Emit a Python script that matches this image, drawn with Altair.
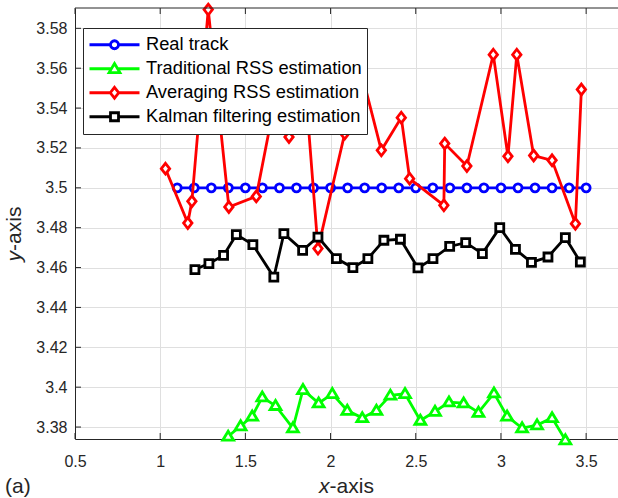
import altair as alt
import pandas as pd

# ---- series ---------------------------------------------------------------
series_names = [
    "Real track",
    "Traditional RSS estimation",
    "Averaging RSS estimation",
    "Kalman filtering estimation",
]
series_colors = ["#0000ff", "#00ff00", "#ff0000", "#000000"]

real_x = [1.1, 1.2, 1.3, 1.4, 1.5, 1.6, 1.7, 1.8, 1.9, 2.0, 2.1, 2.2, 2.3,
          2.4, 2.5, 2.6, 2.7, 2.8, 2.9, 3.0, 3.1, 3.2, 3.3, 3.4, 3.5]
real_y = [3.5, 3.5, 3.5, 3.5, 3.5, 3.5, 3.5, 3.5, 3.5, 3.5, 3.5, 3.5, 3.5,
          3.5, 3.5, 3.5, 3.5, 3.5, 3.5, 3.5, 3.5, 3.5, 3.5, 3.5, 3.5]

trad_x = [1.399, 1.472, 1.540, 1.599, 1.677, 1.779, 1.838, 1.930, 2.010,
          2.098, 2.186, 2.269, 2.351, 2.437, 2.527, 2.613, 2.695, 2.781,
          2.868, 2.959, 3.036, 3.124, 3.212, 3.300, 3.378]
trad_y = [3.3753, 3.3805, 3.3854, 3.3950, 3.3907, 3.3795, 3.3987, 3.3920,
          3.3967, 3.3883, 3.3846, 3.3883, 3.3959, 3.3967, 3.3833, 3.3878,
          3.3925, 3.3920, 3.3873, 3.3970, 3.3854, 3.3795, 3.3810, 3.3846,
          3.3735]

avg_x = [1.031, 1.162, 1.186, 1.282, 1.403, 1.564, 1.690, 1.756, 1.840,
         1.926, 2.083, 2.150, 2.298, 2.415, 2.464, 2.665, 2.670, 2.800,
         2.955, 3.041, 3.093, 3.192, 3.300, 3.437, 3.472]
avg_y = [3.5096, 3.4823, 3.4932, 3.5894, 3.4904, 3.4957, 3.5510, 3.5255,
         3.5640, 3.4695, 3.5272, 3.5683, 3.5188, 3.5352, 3.5046, 3.4912,
         3.5222, 3.5109, 3.5668, 3.5158, 3.5668, 3.5162, 3.5138, 3.4820,
         3.5493]

kal_x = [1.204, 1.286, 1.372, 1.447, 1.544, 1.667, 1.726, 1.836, 1.926,
         2.034, 2.131, 2.219, 2.313, 2.410, 2.513, 2.601, 2.699, 2.793,
         2.891, 2.993, 3.085, 3.179, 3.276, 3.378, 3.466]
kal_y = [3.4590, 3.4620, 3.4661, 3.4765, 3.4715, 3.4552, 3.4770, 3.4686,
         3.4753, 3.4645, 3.4600, 3.4645, 3.4737, 3.4742, 3.4598, 3.4645,
         3.4706, 3.4725, 3.4670, 3.4800, 3.4691, 3.4626, 3.4653, 3.4750,
         3.4628]

x_ticks = [0.5, 1, 1.5, 2, 2.5, 3, 3.5]
y_ticks = [3.38, 3.40, 3.42, 3.44, 3.46, 3.48, 3.50, 3.52, 3.54, 3.56, 3.58]

# ---- styling --------------------------------------------------------------
W, H = 543, 431
FONT = "Liberation Sans"
AX = "#262626"
GRID = "#dfdfdf"
LW = 2.8
TICK = 6


def circle_path(r, s=1.0):
    r = r / s
    return f"M{r:.4f},0A{r:.4f},{r:.4f},0,1,1,{-r:.4f},0A{r:.4f},{r:.4f},0,1,1,{r:.4f},0Z"


def poly_path(pts, s=1.0):
    return "M" + "L".join(f"{x / s:.4f},{y / s:.4f}" for x, y in pts) + "Z"


TRI = [(0, -5.2), (5.4, 3.8), (-5.4, 3.8)]
DIA = [(0, -5.4), (4.2, 0), (0, 5.4), (-4.2, 0)]
SQR = [(-4, -4), (4, -4), (4, 4), (-4, 4)]


def marker(kind, s=1.0):
    if kind == "o":
        return circle_path(4, s)
    return poly_path({"^": TRI, "d": DIA, "s": SQR}[kind], s)


# half widths of each marker along its centre line (px), where the key line stops
HALF = {"o": 4.0, "^": 3.12, "d": 4.2, "s": 4.0}
kinds = ["o", "^", "d", "s"]

# legend keys: 50 px line broken by the marker (unit = 25 px for size 2500)
KEY_SCALE = 25.0
legend_paths = []
for k in kinds:
    g = HALF[k] / KEY_SCALE
    legend_paths.append(f"M-1,0H{-g:.4f}M{g:.4f},0H1" + marker(k, KEY_SCALE))

xscale = alt.Scale(domain=[0.5, 3.687], nice=False, zero=False)
yscale = alt.Scale(domain=[3.374, 3.5902], nice=False, zero=False)

xaxis = alt.Axis(values=x_ticks, format="~g", title=None, grid=True,
                 gridColor=GRID, gridWidth=1, tickSize=0, domainColor=AX,
                 domainWidth=1, labelFont=FONT, labelFontSize=16,
                 labelColor=AX, labelPadding=14, labelFlush=False,
                 labelOverlap=False)
yaxis = alt.Axis(values=y_ticks, format="~g", title=None, grid=True,
                 gridColor=GRID, gridWidth=1, tickSize=0, domainColor=AX,
                 domainWidth=1, labelFont=FONT, labelFontSize=16,
                 labelColor=AX, labelPadding=8, labelFlush=False,
                 labelOverlap=False)

all_x = [real_x, trad_x, avg_x, kal_x]
all_y = [real_y, trad_y, avg_y, kal_y]

layers = []
for name, color, k, xs, ys in zip(series_names, series_colors, kinds, all_x, all_y):
    df = pd.DataFrame({"x": xs, "y": ys})
    base = alt.Chart(df).encode(
        x=alt.X("x:Q", scale=xscale, axis=xaxis),
        y=alt.Y("y:Q", scale=yscale, axis=yaxis),
    )
    layers.append(base.mark_line(color=color, strokeWidth=LW, strokeJoin="miter"))
    layers.append(base.mark_point(shape=marker(k), size=4, filled=False,
                                  fill="white", fillOpacity=1, stroke=color,
                                  strokeWidth=LW, opacity=1))

# inward tick marks and the top border of the box
xt = pd.DataFrame({"x": x_ticks})
yt = pd.DataFrame({"y": y_ticks})
layers.append(alt.Chart(xt).mark_rule(color=AX, strokeWidth=1).encode(
    x=alt.X("x:Q", scale=xscale, axis=xaxis), y=alt.value(H - TICK), y2=alt.value(H)))
layers.append(alt.Chart(xt).mark_rule(color=AX, strokeWidth=1).encode(
    x=alt.X("x:Q", scale=xscale, axis=xaxis), y=alt.value(0), y2=alt.value(TICK)))
layers.append(alt.Chart(yt).mark_rule(color=AX, strokeWidth=1).encode(
    y=alt.Y("y:Q", scale=yscale, axis=yaxis), x=alt.value(0), x2=alt.value(TICK)))
layers.append(alt.Chart(pd.DataFrame({"v": [0]})).mark_rule(color=AX, strokeWidth=1).encode(
    x=alt.value(0), x2=alt.value(W), y=alt.value(0)))

# legend carrier (draws nothing itself)
leg = alt.Legend(title=None, orient="none", legendX=8, legendY=20,
                 labelFont=FONT, labelFontSize=18.3, labelColor="black",
                 labelLimit=400, labelOffset=5, symbolSize=2500,
                 symbolStrokeWidth=LW, symbolFillColor="white",
                 symbolOpacity=1, padding=5,
                 fillColor="white", strokeColor=AX, clipHeight=23.5,
                 rowPadding=0)
layers.append(
    alt.Chart(pd.DataFrame({"series": series_names}))
    .transform_filter("false")
    .mark_point(filled=False, size=2500, strokeWidth=LW, opacity=1)
    .encode(
        color=alt.Color("series:N", scale=alt.Scale(domain=series_names, range=series_colors), legend=leg),
        shape=alt.Shape("series:N", scale=alt.Scale(domain=series_names, range=legend_paths), legend=leg),
    )
)

# axis titles with italic variable letters, and the panel tag
lbl = pd.DataFrame({"v": [0]})
TS = 21
layers.append(alt.Chart(lbl).mark_text(text="x", font=FONT, fontSize=TS, fontStyle="italic",
                                       align="right", baseline="alphabetic", color=AX)
              .encode(x=alt.value(254.6), y=alt.value(485)))
layers.append(alt.Chart(lbl).mark_text(text="-axis", font=FONT, fontSize=TS,
                                       align="left", baseline="alphabetic", color=AX)
              .encode(x=alt.value(254.6), y=alt.value(485)))
layers.append(alt.Chart(lbl).mark_text(text="y", font=FONT, fontSize=TS, fontStyle="italic",
                                       align="right", baseline="alphabetic", angle=270, color=AX)
              .encode(x=alt.value(-54), y=alt.value(242.9)))
layers.append(alt.Chart(lbl).mark_text(text="-axis", font=FONT, fontSize=TS,
                                       align="left", baseline="alphabetic", angle=270, color=AX)
              .encode(x=alt.value(-54), y=alt.value(242.9)))
layers.append(alt.Chart(lbl).mark_text(text="(a)", font=FONT, fontSize=TS,
                                       align="left", baseline="alphabetic", color=AX)
              .encode(x=alt.value(-70), y=alt.value(485)))

chart = (
    alt.layer(*layers)
    .properties(width=W, height=H, background="white",
                padding={"left": 75, "top": 8, "right": 0, "bottom": 59},
                autosize=alt.AutoSizeParams(type="none"))
    .configure_view(stroke=None)
)

chart.save("out.html", embed_options={"renderer": "svg", "actions": False})
